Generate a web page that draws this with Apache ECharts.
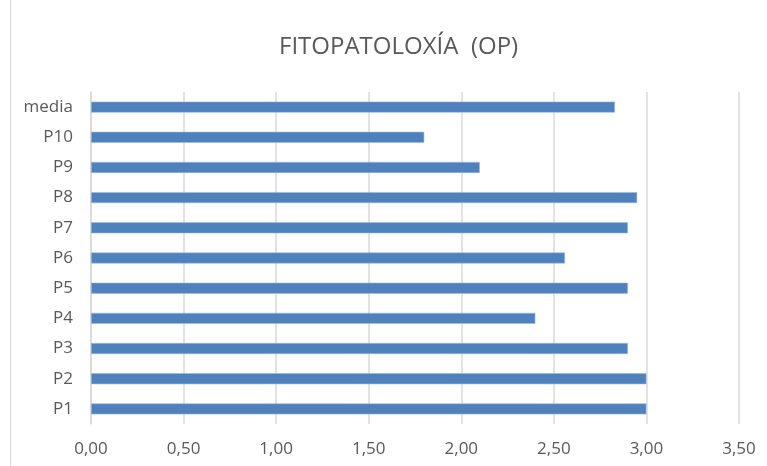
<!DOCTYPE html>
<html>
<head>
<meta charset="utf-8">
<script src="https://cdn.jsdelivr.net/npm/echarts@6/dist/echarts.min.js"></script>
<style>
    html, body { margin: 0; padding: 0; background: #fff; }
    #chart1 { position: absolute; left: 10px; top: 0; width: 757px; height: 466px; border-left: 1px solid #d9d9d9; }
</style>
</head>
<body>
<div id="chart1"></div>
<script>
// categorias de abaixo a arriba
const categories = ['P1', 'P2', 'P3', 'P4', 'P5', 'P6', 'P7', 'P8', 'P9', 'P10', 'media']
const values = [3.00, 3.00, 2.90, 2.40, 2.90, 2.56, 2.90, 2.95, 2.10, 1.80, 2.83]
const titleText = 'FITOPATOLOXÍA  (OP)'

const chart1 = echarts.init(document.getElementById('chart1'))
const labelColor = '#595959'
const gridColor = '#d9d9d9'

const option = {
    animation: false,
    title: {
        text: titleText,
        left: 263,
        top: 30,
        textStyle: {
            color: '#595959',
            fontSize: 24,
            fontWeight: 'normal',
            fontFamily: 'Open Sans'
        }
    },
    grid: {
        left: 80,
        right: 29,
        top: 92,
        bottom: 42
    },
    xAxis: {
        type: 'value',
        min: 0,
        max: 3.5,
        interval: 0.5,
        axisLine: { show: false },
        axisTick: { show: false },
        axisLabel: {
            color: labelColor,
            fontSize: 17,
            fontFamily: 'Open Sans',
            margin: 17,
            formatter: (v) => v.toFixed(2).replace('.', ',')
        },
        splitLine: {
            lineStyle: { color: gridColor, width: 1.5 }
        }
    },
    yAxis: {
        type: 'category',
        data: categories,
        axisLine: { lineStyle: { color: gridColor, width: 1.5 } },
        axisTick: { show: false },
        axisLabel: {
            color: labelColor,
            fontSize: 17,
            fontFamily: 'Open Sans',
            margin: 18
        }
    },
    series: [
        {
            type: 'bar',
            data: values,
            barWidth: 11,
            itemStyle: {
                color: '#4f81bd',
                borderColor: '#9db8dc',
                borderWidth: 0.6
            }
        }
    ]
}
chart1.setOption(option)
</script>
</body>
</html>
